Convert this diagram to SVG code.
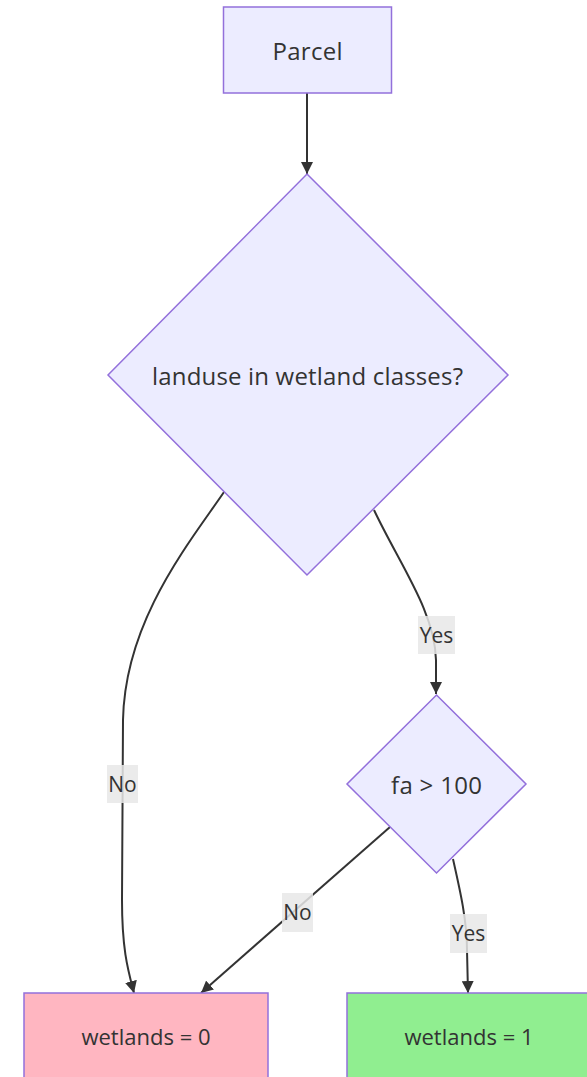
<svg xmlns="http://www.w3.org/2000/svg" width="587" height="1077" viewBox="0 0 587 1077">
  <defs>
    <style>
      .node { fill: #ECECFF; stroke: #9370DB; stroke-width: 1.5; }
      .no { fill: #FFB6C1; }
      .yes { fill: #90EE90; }
      .label { font-family: "Open Sans", "Liberation Sans", sans-serif; font-size: 24px; fill: #333333; text-anchor: middle; dominant-baseline: central; }
      .small { font-size: 22px; }
      .edge { fill: none; stroke: #333333; stroke-width: 2; }
      .elbg { fill: #e8e8e8; opacity: 0.85; }
      .eltxt { font-family: "Open Sans", "Liberation Sans", sans-serif; font-size: 21px; fill: #333333; text-anchor: middle; dominant-baseline: central; }
    </style>
    <marker id="arrow" viewBox="0 0 12 12" refX="12" refY="6" markerWidth="12" markerHeight="12" markerUnits="userSpaceOnUse" orient="auto">
      <path d="M0,0 L12,6 L0,12 z" fill="#333333"/>
    </marker>
  </defs>

  <!-- connectors -->
  <g id="edges">
    <path class="edge" d="M307,93 L307,174" marker-end="url(#arrow)"/>
    <path class="edge" d="M224,492 C190,542 125,620 123,720 L122,900 C122,950 128,970 134,993" marker-end="url(#arrow)"/>
    <path class="edge" d="M374,510 C400,565 435,612 436,660 L436,694" marker-end="url(#arrow)"/>
    <path class="edge" d="M390,827 L201,993" marker-end="url(#arrow)"/>
    <path class="edge" d="M453,859 C460,890 467,920 467,950 L468,993" marker-end="url(#arrow)"/>

    <g id="label-no-1">
      <rect class="elbg" x="107" y="765" width="31" height="38"/>
      <text class="eltxt" x="122.5" y="784">No</text>
    </g>
    <g id="label-yes-1">
      <rect class="elbg" x="418" y="616" width="37" height="38"/>
      <text class="eltxt" x="436.5" y="635">Yes</text>
    </g>
    <g id="label-no-2">
      <rect class="elbg" x="282" y="893" width="31" height="39"/>
      <text class="eltxt" x="297.5" y="912">No</text>
    </g>
    <g id="label-yes-2">
      <rect class="elbg" x="450" y="914" width="37" height="39"/>
      <text class="eltxt" x="468.5" y="933">Yes</text>
    </g>
  </g>

  <!-- nodes -->
  <g id="parcel">
    <rect class="node" x="223.5" y="7" width="168" height="86"/>
    <text class="label" x="307.5" y="50" textLength="70">Parcel</text>
  </g>

  <g id="landuse-check">
    <polygon class="node" points="307,174 508,375 307,575 108,375"/>
    <text class="label" x="307.5" y="375" textLength="311">landuse in wetland classes?</text>
  </g>

  <g id="fa-check">
    <polygon class="node" points="436.5,695 526,784 436.5,873 347,784"/>
    <text class="label" x="436.5" y="784" textLength="91">fa &gt; 100</text>
  </g>

  <g id="wetlands-0">
    <rect class="node no" x="24" y="993" width="244" height="100"/>
    <text class="label small" x="146" y="1036">wetlands = 0</text>
  </g>

  <g id="wetlands-1">
    <rect class="node yes" x="347" y="993" width="244" height="100"/>
    <text class="label small" x="469" y="1036">wetlands = 1</text>
  </g>
</svg>
